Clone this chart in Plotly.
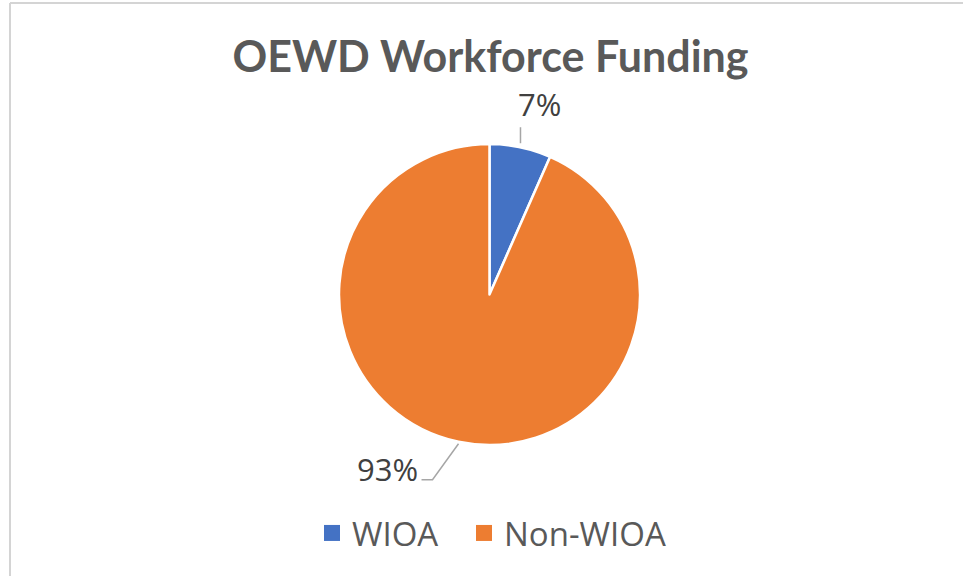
import math
import plotly.graph_objects as go

labels = ["WIOA", "Non-WIOA"]
values = [6.6, 93.4]
colors = ["#4472C4", "#ED7D31"]
title_text = "OEWD Workforce Funding"

W, H = 963, 576
cx_px, cy_px, r_px = 489.5, 294.5, 150.5

fig = go.Figure()
fig.add_trace(go.Pie(
    labels=labels, values=values, sort=False, direction="clockwise", rotation=0,
    marker=dict(colors=colors, line=dict(color="white", width=2.5)),
    textinfo="none", hoverinfo="label+percent",
    domain=dict(x=[(cx_px - 200) / W, (cx_px + 200) / W],
                y=[(H - cy_px - r_px) / H, (H - cy_px + r_px) / H]),
    showlegend=False,
))
# legend entries (16px squares like the original), one legend box per entry
legend_ids = ["legend", "legend2"]
for lab, col, lg in zip(labels, colors, legend_ids):
    fig.add_trace(go.Scatter(x=[None], y=[None], mode="markers", name=lab,
                             marker=dict(symbol="square", size=16, color=col),
                             showlegend=True, hoverinfo="skip", legend=lg))

def px2paper(x, y):
    return x / W, 1 - y / H

total = sum(values)
cum = 0
shapes = []
annotations = []
for i, v in enumerate(values):
    mid = (cum + v / 2) / total * 2 * math.pi
    cum += v
    ex = cx_px + r_px * math.sin(mid)
    ey = cy_px - r_px * math.cos(mid)
    pct = f"{round(v / total * 100):.0f}%"
    if math.cos(mid) > 0:  # top label
        pts = [(ex, ey - 4), (ex, ey - 20)]
        tx, ty, xa = ex + 19, ey - 43, "center"
    else:  # lower-left label
        pts = [(ex, ey + 2), (ex - 26, ey + 38), (ex - 37, ey + 38)]
        tx, ty, xa = ex - 39, ey + 27, "right"
    path = "M " + " L ".join(f"{px2paper(x, y)[0]},{px2paper(x, y)[1]}" for x, y in pts)
    shapes.append(dict(type="path", xref="paper", yref="paper", path=path,
                       line=dict(color="#A6A6A6", width=1.5)))
    ax, ay = px2paper(tx, ty)
    annotations.append(dict(x=ax, y=ay, xref="paper", yref="paper", text=pct,
                            showarrow=False, xanchor=xa, yanchor="middle",
                            font=dict(family="Open Sans", size=31, color="#404040")))

# chart frame
fx, fy = px2paper(10, 3)
shapes.append(dict(type="line", xref="paper", yref="paper", x0=fx, y0=fy, x1=1, y1=fy,
                   line=dict(color="#D4D4D4", width=2)))
shapes.append(dict(type="line", xref="paper", yref="paper", x0=fx, y0=fy, x1=fx, y1=0,
                   line=dict(color="#D4D4D4", width=2)))

legend_style = dict(orientation="h", xanchor="left", y=1 - 533 / H, yanchor="middle",
                    font=dict(family="Open Sans", size=33, color="#595959"),
                    bgcolor="rgba(0,0,0,0)",
                    itemsizing="trace", itemclick=False, itemdoubleclick=False)

fig.update_layout(
    width=W, height=H,
    margin=dict(l=0, r=0, t=0, b=0),
    paper_bgcolor="white", plot_bgcolor="white",
    xaxis=dict(visible=False), yaxis=dict(visible=False),
    title=dict(text=f"<b>{title_text}</b>", x=490.5 / W, xanchor="center",
               y=1 - 57 / H, yanchor="middle",
               font=dict(family="Lato", size=43, color="#595959")),
    legend=dict(x=312 / W, **legend_style),
    legend2=dict(x=464 / W, **legend_style),
    shapes=shapes, annotations=annotations,
)

fig.write_html("out.html", config={"displayModeBar": False},
               post_script="document.body.style.margin='0';")
